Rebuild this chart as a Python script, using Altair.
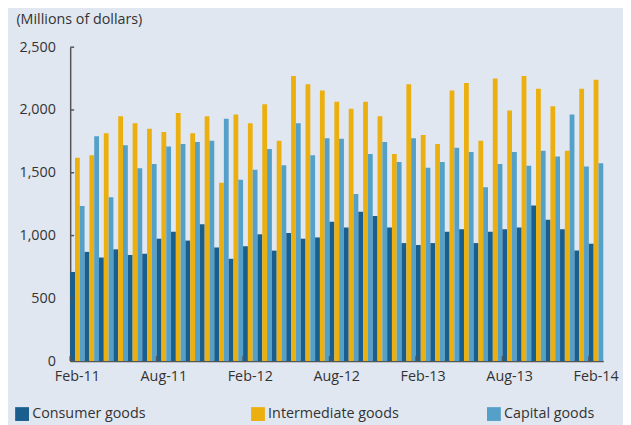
import altair as alt
import pandas as pd

months = ["Feb-11", "Mar-11", "Apr-11", "May-11", "Jun-11", "Jul-11", "Aug-11", "Sep-11",
          "Oct-11", "Nov-11", "Dec-11", "Jan-12", "Feb-12", "Mar-12", "Apr-12", "May-12",
          "Jun-12", "Jul-12", "Aug-12", "Sep-12", "Oct-12", "Nov-12", "Dec-12", "Jan-13",
          "Feb-13", "Mar-13", "Apr-13", "May-13", "Jun-13", "Jul-13", "Aug-13", "Sep-13",
          "Oct-13", "Nov-13", "Dec-13", "Jan-14", "Feb-14"]
consumer = [710, 870, 825, 890, 845, 855, 975, 1030, 960, 1090, 905, 815, 915, 1010, 880, 1020,
            975, 985, 1110, 1065, 1190, 1155, 1065, 940, 925, 940, 1030, 1050, 940, 1030,
            1050, 1065, 1240, 1125, 1050, 880, 935]
intermediate = [1620, 1640, 1815, 1950, 1895, 1850, 1825, 1975, 1815, 1950, 1420, 1965, 1895,
                2045, 1755, 2270, 2205, 2155, 2065, 2010, 2065, 1950, 1650, 2205, 1800, 1730,
                2155, 2215, 1755, 2250, 1995, 2270, 2170, 2030, 1675, 2170, 2240]
capital = [1235, 1790, 1305, 1720, 1535, 1570, 1710, 1730, 1745, 1755, 1930, 1445, 1525, 1690,
           1560, 1895, 1640, 1775, 1770, 1330, 1650, 1745, 1585, 1775, 1540, 1585, 1700, 1665,
           1385, 1570, 1665, 1555, 1675, 1630, 1965, 1550, 1575]

series = ["Consumer goods", "Intermediate goods", "Capital goods"]
colors = ["#1a5e8d", "#ebb00f", "#55a0c8"]
tick_months = ["Feb-11", "Aug-11", "Feb-12", "Aug-12", "Feb-13", "Aug-13", "Feb-14"]
y_ticks = [0, 500, 1000, 1500, 2000, 2500]

rows = []
for i, m in enumerate(months):
    for s, vals in zip(series, [consumer, intermediate, capital]):
        rows.append({"month": m, "series": s, "value": vals[i]})
df = pd.DataFrame(rows)

FONT = "Open Sans"
FS = 14.5
TXT = "#333333"
AXC = "#555555"

x_scale = alt.Scale(domain=months, paddingInner=0, paddingOuter=0)

bars = alt.Chart(df).mark_bar().encode(
    x=alt.X("month:N", sort=months, scale=x_scale,
            axis=alt.Axis(values=tick_months, bandPosition=0, labelAngle=0, title=None,
                          ticks=False, labelPadding=9, domainColor=AXC, domainWidth=1.5,
                          labelFontSize=FS, labelColor=TXT, labelFont=FONT)),
    xOffset=alt.XOffset("series:N", sort=series,
                        scale=alt.Scale(domain=series, paddingInner=0, paddingOuter=0)),
    y=alt.Y("value:Q", scale=alt.Scale(domain=[0, 2500], nice=False),
            axis=alt.Axis(values=y_ticks, format=",.0f", grid=False, ticks=False,
                          labelPadding=15, domainColor=AXC, domainWidth=1.5,
                          labelFontSize=FS, labelColor=TXT, labelFont=FONT,
                          title="(Millions of dollars)", titleAngle=0, titleAlign="left",
                          titleBaseline="alphabetic", titleX=-55, titleY=-24,
                          titleFont=FONT, titleFontSize=FS, titleFontWeight="normal",
                          titleColor=TXT)),
    color=alt.Color("series:N", sort=series, scale=alt.Scale(domain=series, range=colors),
                    legend=alt.Legend(orient="none", legendX=-56, legendY=364,
                                      direction="horizontal", title=None, columns=3,
                                      gridAlign="all",
                                      symbolType="square", symbolSize=196,
                                      symbolStrokeWidth=0, symbolOpacity=1,
                                      labelFontSize=FS, labelFont=FONT, labelColor=TXT,
                                      labelOffset=3, columnPadding=88)),
)

yt = alt.Chart(pd.DataFrame({"v": y_ticks})).mark_rule(color=AXC, strokeWidth=1.5).encode(
    y="v:Q", x=alt.value(0), x2=alt.value(4))

xt = alt.Chart(pd.DataFrame({"m": tick_months})).mark_rule(color=AXC, strokeWidth=1.5).encode(
    x=alt.X("m:N", scale=x_scale, bandPosition=0), y=alt.value(318), y2=alt.value(313))

chart = alt.layer(bars, yt, xt).properties(
    width=540, height=318,
    padding={"left": 63, "top": 37, "right": 20, "bottom": 62},
    autosize="none",
    background="#e0e7f1",
).configure_view(stroke=None)

chart.save("out.html", embed_options={"renderer": "svg", "actions": False})
